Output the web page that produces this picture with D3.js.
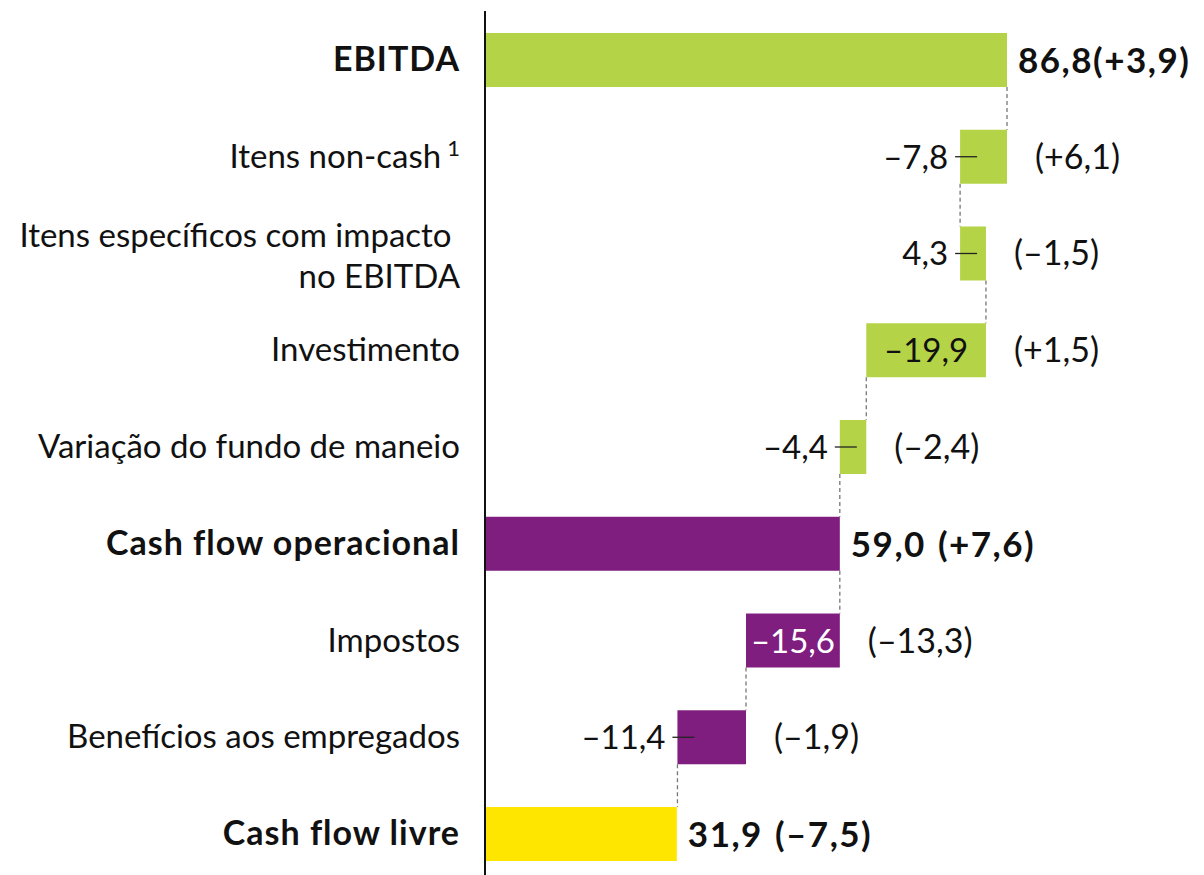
<!DOCTYPE html>
<html>
<head>
<meta charset="utf-8">
<script src="https://cdn.jsdelivr.net/npm/d3@7"></script>
<style>
  body { margin: 0; background: #fff; }
  svg text { font-family: Lato, "Noto Sans", sans-serif; fill: #111; }
</style>
</head>
<body>
<script>
// waterfall: EBITDA -> cash flow livre
var categories = ["EBITDA", "Itens non-cash", "Itens específicos com impacto |no EBITDA", "Investimento",
  "Variação do fundo de maneio", "Cash flow operacional", "Impostos", "Benefícios aos empregados", "Cash flow livre"];
var values = [86.8, -7.8, 4.3, -19.9, -4.4, 59.0, -15.6, -11.4, 31.9];
var isTotal = [true, false, false, false, false, true, false, false, true];
var changes = ["(+3,9)", "(+6,1)", "(–1,5)", "(+1,5)", "(–2,4)", "(+7,6)", "(–13,3)", "(–1,9)", "(–7,5)"];
var groups = ["ebitda", "ebitda", "ebitda", "ebitda", "ebitda", "cfo", "cfo", "cfo", "cfl"];
var footnote = ["", "1", "", "", "", "", "", "", ""];

var W = 1204, H = 875;
var svg = d3.select("body").append("svg").attr("width", W).attr("height", H);

var x = d3.scaleLinear().domain([0, 86.8]).range([485, 1007]);
var y = d3.scaleBand().domain(d3.range(categories.length)).range([11.6, 882.4])
  .paddingInner(0.442).paddingOuter(0.221);
var color = d3.scaleOrdinal().domain(["ebitda", "cfo", "cfl"]).range(["#b4d346", "#801e7f", "#ffe600"]);
var fmt = function (v) { return d3.format(".1f")(Math.abs(v)).replace(".", ","); };

// running totals
var rows = [], run = 0;
values.forEach(function (v, i) {
  var s, e;
  if (isTotal[i]) { s = 0; e = v; run = v; }
  else { s = run; e = run + v; run = e; }
  rows.push({ i: i, v: v, s: s, e: e, lo: Math.min(s, e), hi: Math.max(s, e) });
});

var bh = y.bandwidth();

// connectors
for (var k = 0; k < rows.length - 1; k++) {
  var cx = x(rows[k].e);
  svg.append("line")
    .attr("x1", cx).attr("x2", cx)
    .attr("y1", y(k) + bh).attr("y2", y(k + 1))
    .attr("stroke", "#777").attr("stroke-width", 1.3).attr("stroke-dasharray", "4,3");
}

// bars
svg.selectAll("rect.bar").data(rows).enter().append("rect")
  .attr("class", "bar")
  .attr("x", function (d) { return x(d.lo); })
  .attr("y", function (d) { return y(d.i); })
  .attr("width", function (d) { return x(d.hi) - x(d.lo); })
  .attr("height", bh)
  .attr("fill", function (d) { return color(groups[d.i]); });

// axis line
svg.append("line").attr("x1", 485).attr("x2", 485).attr("y1", 11).attr("y2", H)
  .attr("stroke", "#111").attr("stroke-width", 2);

// category labels
rows.forEach(function (d) {
  var lines = categories[d.i].split("|");
  var cy = y(d.i) + bh / 2;
  var t = svg.append("text")
    .attr("text-anchor", "end")
    .attr("font-size", isTotal[d.i] ? 34 : 33)
    .attr("letter-spacing", isTotal[d.i] ? 1 : 0)
    .attr("font-weight", isTotal[d.i] ? 700 : 400);
  lines.forEach(function (ln, j) {
    t.append("tspan").attr("x", 460)
      .attr("y", cy + (lines.length > 1 ? 14 : 11) + (j - (lines.length - 1) / 2) * 41)
      .text(ln);
  });
  if (footnote[d.i]) {
    t.append("tspan").attr("font-size", 22).attr("dx", 6).attr("dy", -12).text(footnote[d.i]);
  }
});

// value labels
rows.forEach(function (d) {
  var cy = y(d.i) + bh / 2 + 12;
  if (isTotal[d.i]) {
    var t = svg.append("text").attr("x", x(d.hi) + 11).attr("y", cy + 1)
      .attr("font-size", 35).attr("font-weight", 700).attr("letter-spacing", 1.5);
    t.append("tspan").text(fmt(d.v));
    t.append("tspan").attr("dx", d.i === 0 ? 0 : 12).text(changes[d.i]);
    return;
  }
  var w = x(d.hi) - x(d.lo);
  var label = (d.v < 0 ? "–" : "") + fmt(d.v);
  if (w > 80) {
    svg.append("text").attr("x", (x(d.lo) + x(d.hi)) / 2).attr("y", cy)
      .attr("text-anchor", "middle").attr("font-size", 33)
      .style("fill", groups[d.i] === "cfo" ? "#fff" : "#111")
      .text(label);
  } else {
    svg.append("text").attr("x", x(d.lo) - 12).attr("y", cy)
      .attr("text-anchor", "end").attr("font-size", 33).text(label);
    svg.append("line").attr("x1", x(d.lo) - 5).attr("x2", x(d.lo) + 17)
      .attr("y1", y(d.i) + bh / 2).attr("y2", y(d.i) + bh / 2)
      .attr("stroke", "#222").attr("stroke-width", 1.3);
  }
  svg.append("text").attr("x", x(d.hi) + 28).attr("y", cy)
    .attr("font-size", 34).text(changes[d.i]);
});
</script>
</body>
</html>
